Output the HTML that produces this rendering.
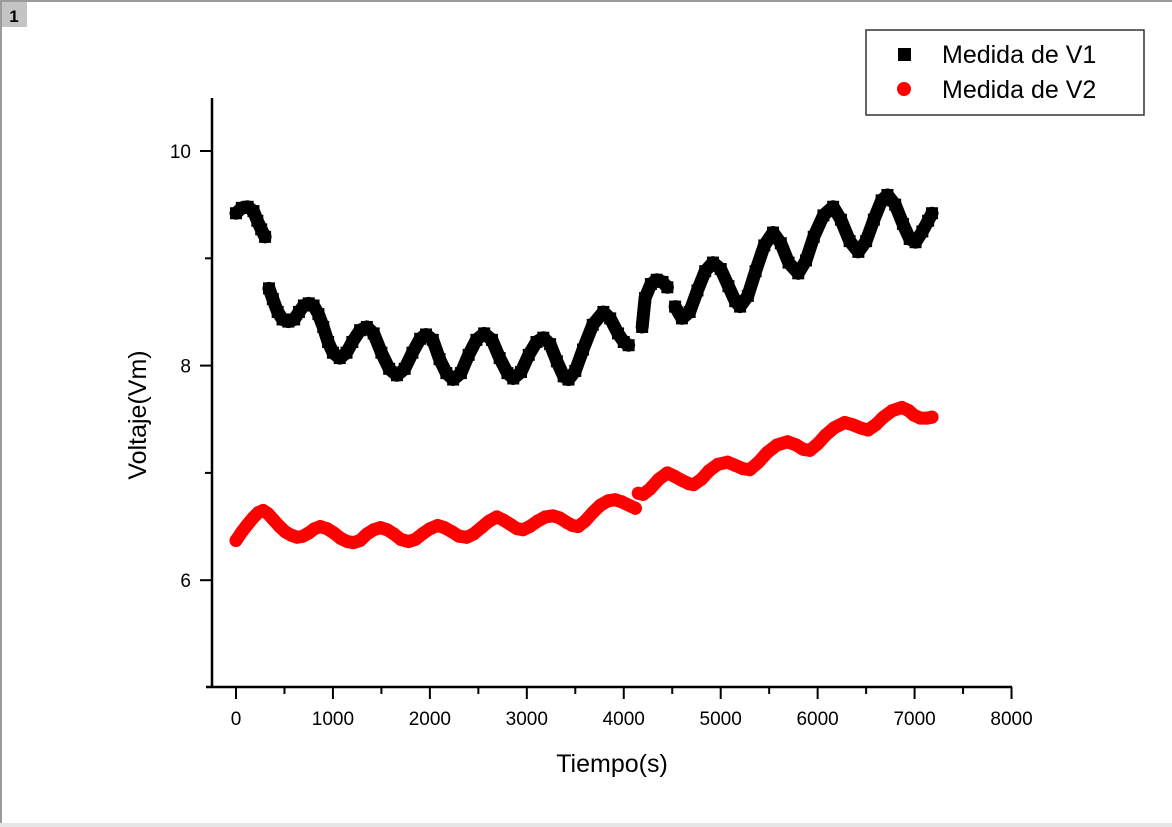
<!DOCTYPE html>
<html><head><meta charset="utf-8"><style>
body{margin:0;background:#fff;}
svg{display:block;font-family:"Liberation Sans",Arial,sans-serif;}
</style></head><body>
<svg id="chart" width="1172" height="827" viewBox="0 0 1172 827">
<rect x="0" y="0" width="1172" height="2" fill="#9a9a9a"/>
<rect x="0" y="0" width="2" height="827" fill="#9a9a9a"/>
<rect x="0" y="823" width="1172" height="4" fill="#e6e6e6"/>
<rect x="2" y="2" width="25" height="25" fill="#c4c4c4"/>
<text x="14" y="22" font-size="17" font-weight="bold" text-anchor="middle">1</text>
<g id="axes"></g>
<g id="marks"></g>
<g>
<rect x="866" y="30" width="278" height="85" fill="#fff" stroke="#333" stroke-width="1.5"/>
<rect x="898" y="48" width="13" height="13" fill="#000"/>
<text x="942" y="63" font-size="25">Medida de V1</text>
<circle cx="904" cy="89" r="7" fill="#f00"/>
<text x="942" y="98" font-size="25">Medida de V2</text>
</g>
<text x="612" y="772" font-size="25" text-anchor="middle">Tiempo(s)</text>
<text x="146" y="415" font-size="25" text-anchor="middle" transform="rotate(-90 146 415)">Voltaje(Vm)</text>
</svg>
<script>
const xTicks=[0,1000,2000,3000,4000,5000,6000,7000,8000];
const yTicks=[6,8,10];
const yMinorTicks=[7,9];
const v1Time=[0,60,120,180,220,260,300,340,380,430,480,540,600,650,700,750,800,850,900,950,1000,1070,1140,1200,1280,1350,1420,1500,1580,1660,1740,1820,1900,1960,2030,2100,2170,2240,2320,2400,2480,2560,2640,2720,2800,2860,2940,3020,3100,3170,3240,3310,3380,3430,3500,3580,3680,3790,3860,3940,4000,4050,4190,4220,4280,4340,4400,4450,4530,4600,4680,4760,4840,4920,5000,5080,5150,5200,5280,5360,5450,5540,5620,5700,5800,5880,5960,6060,6160,6240,6330,6420,6500,6580,6660,6720,6800,6880,6950,7010,7080,7140,7180];
const v1Values=[9.42,9.47,9.48,9.44,9.35,9.27,9.2,8.72,8.62,8.5,8.43,8.41,8.43,8.5,8.56,8.58,8.56,8.48,8.36,8.22,8.12,8.07,8.12,8.22,8.33,8.36,8.3,8.12,7.97,7.91,7.97,8.12,8.25,8.29,8.24,8.06,7.93,7.87,7.93,8.1,8.24,8.3,8.24,8.07,7.93,7.88,7.94,8.1,8.22,8.26,8.2,8.04,7.9,7.87,7.95,8.15,8.38,8.5,8.44,8.3,8.22,8.19,8.36,8.63,8.76,8.8,8.78,8.73,8.55,8.44,8.5,8.7,8.88,8.96,8.9,8.74,8.6,8.55,8.65,8.88,9.12,9.24,9.14,8.96,8.86,8.98,9.2,9.4,9.48,9.36,9.16,9.06,9.16,9.36,9.54,9.59,9.5,9.32,9.18,9.15,9.25,9.35,9.42];
const v1SegmentStarts=[340,4190,4530];
const v2Time=[0,60,120,175,230,280,330,390,450,510,570,630,690,750,810,870,940,1010,1080,1150,1210,1280,1350,1420,1490,1560,1630,1700,1780,1850,1920,2000,2080,2150,2230,2300,2380,2450,2530,2610,2690,2760,2830,2900,2960,3030,3110,3190,3270,3340,3410,3470,3530,3600,3680,3760,3840,3910,3980,4050,4120,4150,4200,4270,4360,4450,4520,4600,4670,4720,4800,4880,4970,5070,5150,5230,5300,5390,5480,5580,5690,5780,5850,5920,6000,6080,6170,6280,6360,6440,6520,6600,6680,6770,6870,6940,6990,7060,7130,7180];
const v2Values=[6.37,6.45,6.52,6.58,6.63,6.65,6.62,6.56,6.5,6.45,6.42,6.4,6.41,6.44,6.48,6.5,6.48,6.44,6.39,6.36,6.35,6.37,6.43,6.47,6.49,6.47,6.43,6.38,6.36,6.38,6.43,6.48,6.51,6.49,6.45,6.41,6.4,6.43,6.49,6.55,6.59,6.56,6.52,6.48,6.47,6.5,6.55,6.59,6.6,6.58,6.54,6.51,6.5,6.55,6.63,6.7,6.74,6.75,6.73,6.7,6.67,6.81,6.8,6.85,6.94,7.0,6.97,6.93,6.9,6.89,6.94,7.02,7.08,7.1,7.07,7.04,7.03,7.1,7.19,7.26,7.29,7.26,7.22,7.21,7.27,7.35,7.42,7.47,7.45,7.42,7.4,7.45,7.52,7.58,7.61,7.58,7.54,7.51,7.51,7.52];
const v2SegmentStarts=[4150];

const NS="http://www.w3.org/2000/svg";
const X=t=>236+t*0.09694;
const Y=v=>151+(10-v)*107.3;
const axes=document.getElementById('axes');
const marks=document.getElementById('marks');
function mk(tag,attrs,parent){const e=document.createElementNS(NS,tag);for(const k in attrs)e.setAttribute(k,attrs[k]);parent.appendChild(e);return e;}

let e=mk('line',{x1:206,y1:687,x2:1012,y2:687,stroke:'#000','stroke-width':2.5},axes);


e=mk('line',{x1:212,y1:98,x2:212,y2:688,stroke:'#000','stroke-width':2.5},axes);


xTicks.forEach((t,i)=>{
  const x=X(t);
  const l=mk('line',{x1:x,y1:687,x2:x,y2:699,stroke:'#000','stroke-width':2},axes);
  
  
  if(i<xTicks.length-1){const m=mk('line',{x1:X(t+500),y1:687,x2:X(t+500),y2:694,stroke:'#000','stroke-width':2},axes);
  
  }
  const tx=mk('text',{x:x,y:725,'font-size':19,'text-anchor':'middle'},axes);
  tx.textContent=t;
  
  
});
yTicks.forEach(v=>{
  const y=Y(v);
  const l=mk('line',{x1:200,y1:y,x2:212,y2:y,stroke:'#000','stroke-width':2},axes);
  
  
  const tx=mk('text',{x:191,y:y+7,'font-size':19,'text-anchor':'end'},axes);
  tx.textContent=v;
  
  
});
yMinorTicks.forEach(v=>{
  const m=mk('line',{x1:205,y1:Y(v),x2:212,y2:Y(v),stroke:'#000','stroke-width':2},axes);
  
  
});
function band(times,vals,starts,color,w,name){
  let seg=[];
  const flush=()=>{if(seg.length>1){const p=mk('polyline',{points:seg.join(' '),fill:'none',stroke:color,'stroke-width':w,'stroke-linejoin':'round','stroke-linecap':'round'},marks);
    
    }seg=[];};
  times.forEach((t,i)=>{
    if(starts.includes(t))flush();
    seg.push(X(t)+','+Y(vals[i]));
  });
  flush();
}
band(v1Time,v1Values,v1SegmentStarts,'#000',13,'v1-band');
band(v2Time,v2Values,v2SegmentStarts,'#f00',13,'v2-band');
v1Time.forEach((t,i)=>{
  const r=mk('rect',{x:X(t)-6,y:Y(v1Values[i])-6,width:12,height:12,fill:'#000'},marks);
  
  
});
v2Time.forEach((t,i)=>{
  const c=mk('circle',{cx:X(t),cy:Y(v2Values[i]),r:6.5,fill:'#f00'},marks);
  
  
});
</script>
</body></html>
